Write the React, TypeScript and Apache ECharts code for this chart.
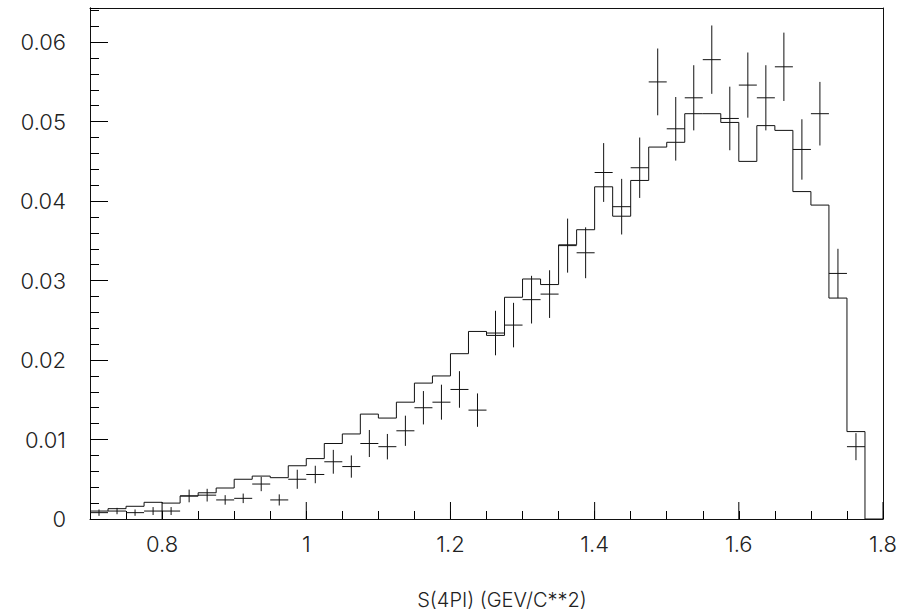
import React, { useEffect, useRef } from "react";
import * as echarts from "echarts";

// Binning of the S(4PI) axis
const binStart = 0.7;
const binWidth = 0.025;

// Histogram (Monte-Carlo) contents per bin, 44 bins from 0.7 to 1.8
const histValues = [
  0.0010, 0.0013, 0.0016, 0.0021, 0.0020, 0.0029, 0.0033, 0.0039, 0.0050, 0.0054,
  0.0052, 0.0067, 0.0076, 0.0095, 0.0107, 0.0132, 0.0127, 0.0147, 0.0171, 0.0180,
  0.0208, 0.0236, 0.0231, 0.0279, 0.0302, 0.0295, 0.0345, 0.0364, 0.0418, 0.0381,
  0.0426, 0.0468, 0.0474, 0.0510, 0.0510, 0.0499, 0.0450, 0.0495, 0.0489, 0.0412,
  0.0395, 0.0278, 0.0110, 0.0000,
];

// Data points (crosses) per bin and their errors, bins 0..42
const dataValues = [
  0.0008, 0.0010, 0.0008, 0.0010, 0.0010, 0.0029, 0.0030, 0.0024, 0.0026, 0.0044,
  0.0024, 0.0050, 0.0056, 0.0072, 0.0066, 0.0095, 0.0091, 0.0111, 0.0140, 0.0147,
  0.0163, 0.0137, 0.0234, 0.0244, 0.0276, 0.0283, 0.0344, 0.0335, 0.0436, 0.0393,
  0.0442, 0.0550, 0.0491, 0.0530, 0.0578, 0.0504, 0.0546, 0.0530, 0.0569, 0.0465,
  0.0510, 0.0309, 0.0091,
];
const dataErrors = [
  0.0004, 0.0004, 0.0004, 0.0005, 0.0005, 0.0008, 0.0008, 0.0006, 0.0006, 0.0009,
  0.0007, 0.0012, 0.0011, 0.0015, 0.0014, 0.0017, 0.0016, 0.0019, 0.0021, 0.0022,
  0.0023, 0.0021, 0.0028, 0.0028, 0.0030, 0.0030, 0.0034, 0.0032, 0.0037, 0.0035,
  0.0038, 0.0042, 0.0040, 0.0041, 0.0043, 0.0040, 0.0041, 0.0041, 0.0043, 0.0038,
  0.0040, 0.0031, 0.0017,
];

// Axis settings
const xMin = 0.7;
const xMax = 1.8;
const yMin = 0;
const yMax = 0.0643;
const xMajorTicks = [0.8, 1.0, 1.2, 1.4, 1.6, 1.8];
const xTitle = "S(4PI) (GEV/C**2)";

const FONT = "Inter, 'DejaVu Sans', sans-serif";
const INK = "#111111";

export default function App() {
  const ref = useRef<HTMLDivElement>(null);

  useEffect(() => {
    document.body.style.margin = "0";
    if (!ref.current) return;
    const chart = echarts.init(ref.current, undefined, { renderer: "svg" });

    const histData: number[][] = histValues.map((v, i) => [binStart + i * binWidth, v]);
    histData.push([binStart + histValues.length * binWidth, histValues[histValues.length - 1]]);

    const pointData = dataValues.map((v, i) => [
      binStart + (i + 0.5) * binWidth,
      v,
      dataErrors[i],
    ]);

    const frameAxis = {
      type: "value",
      axisLine: { show: true, onZero: false, lineStyle: { color: INK, width: 1 } },
      axisTick: { show: false },
      axisLabel: { show: false },
      splitLine: { show: false },
    };

    const option: any = {
      animation: false,
      backgroundColor: "#ffffff",
      grid: { left: 90, top: 8, right: 26, bottom: 96, show: false },
      xAxis: [
        {
          type: "value",
          position: "bottom",
          min: xMin,
          max: xMax,
          interval: 0.05,
          axisLine: { show: true, onZero: false, lineStyle: { color: INK, width: 1 } },
          axisTick: { show: true, inside: true, length: 8, lineStyle: { color: "#000", width: 1 } },
          splitLine: { show: false },
          axisLabel: {
            margin: 14,
            fontFamily: FONT,
            fontWeight: 300,
            fontSize: 22,
            color: "#222",
            formatter: (v: number) => {
              const k = v / 0.2;
              return Math.abs(k - Math.round(k)) < 1e-6 ? String(+v.toFixed(1)) : "";
            },
          },
        },
        { ...frameAxis, position: "top", min: xMin, max: xMax },
      ],
      yAxis: [
        {
          type: "value",
          position: "left",
          min: yMin,
          max: yMax,
          interval: 0.002,
          axisLine: { show: true, onZero: false, lineStyle: { color: INK, width: 1 } },
          axisTick: { show: true, inside: true, length: 9, lineStyle: { color: "#000", width: 1 } },
          axisLabel: { show: false },
          splitLine: { show: false },
        },
        {
          type: "value",
          position: "left",
          min: yMin,
          max: yMax,
          interval: 0.01,
          axisLine: { show: true, onZero: false, lineStyle: { color: INK, width: 1 } },
          axisTick: { show: true, inside: true, length: 18, lineStyle: { color: "#000", width: 1 } },
          axisLabel: {
            margin: 24,
            showMaxLabel: false,
            fontFamily: FONT,
            fontWeight: 300,
            fontSize: 22,
            color: "#222",
          },
          splitLine: { show: false },
        },
        { ...frameAxis, position: "right", min: yMin, max: yMax },
      ],
      graphic: [
        {
          type: "text",
          x: 502,
          y: 600,
          style: {
            text: xTitle,
            fontFamily: FONT,
            fontWeight: 300,
            fontSize: 20,
            fill: "#222",
            textAlign: "center",
            textVerticalAlign: "middle",
          },
        },
      ],
      series: [
        {
          name: "histogram",
          type: "line",
          step: "end",
          data: histData,
          symbol: "none",
          lineStyle: { color: INK, width: 1 },
          xAxisIndex: 0,
          yAxisIndex: 0,
          z: 3,
        },
        {
          name: "data",
          type: "custom",
          data: pointData,
          xAxisIndex: 0,
          yAxisIndex: 0,
          clip: true,
          z: 4,
          renderItem: (_params: any, api: any) => {
            const x = api.value(0);
            const y = api.value(1);
            const e = api.value(2);
            const l = api.coord([x - binWidth / 2, y]);
            const r = api.coord([x + binWidth / 2, y]);
            const t = api.coord([x, y + e]);
            const b = api.coord([x, y - e]);
            const style = { stroke: INK, lineWidth: 1 };
            return {
              type: "group",
              children: [
                { type: "line", shape: { x1: l[0], y1: l[1], x2: r[0], y2: r[1] }, style },
                { type: "line", shape: { x1: t[0], y1: t[1], x2: b[0], y2: b[1] }, style },
              ],
            };
          },
        },
        {
          name: "xMajorTicks",
          type: "custom",
          data: xMajorTicks.map((v) => [v, yMin]),
          xAxisIndex: 0,
          yAxisIndex: 0,
          clip: false,
          z: 5,
          renderItem: (_params: any, api: any) => {
            const p = api.coord([api.value(0), api.value(1)]);
            return {
              type: "line",
              shape: { x1: p[0], y1: p[1], x2: p[0], y2: p[1] - 17 },
              style: { stroke: "#000", lineWidth: 1 },
            };
          },
        },
      ],
    };

    chart.setOption(option);
    return () => chart.dispose();
  }, []);

  return <div ref={ref} style={{ width: 909, height: 615 }} />;
}
